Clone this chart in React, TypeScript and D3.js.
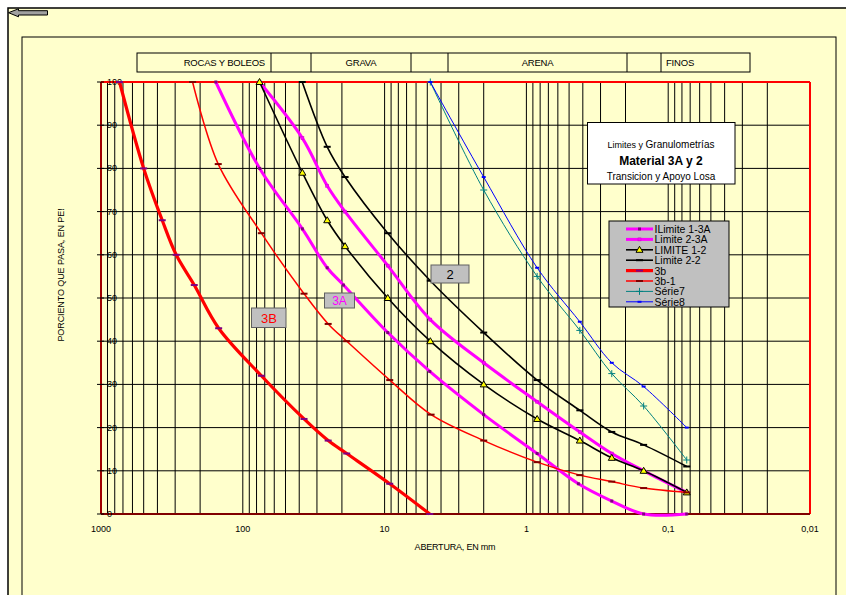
import React from 'react';
import * as d3 from 'd3';

// ---------- data ----------
const xTickValues = [1000, 100, 10, 1, 0.1, 0.01];
const xTickLabels = ['1000', '100', '10', '1', '0,1', '0,01'];
const yTickValues = [0, 10, 20, 30, 40, 50, 60, 70, 80, 90, 100];

const headerLabels = ['ROCAS Y BOLEOS', '', 'GRAVA', '', 'ARENA', '', 'FINOS'];

const seriesNames = ['ILimite 1-3A', 'Limite 2-3A', 'LIMITE 1-2', 'Limite 2-2', '3b', '3b-1', 'Série7', 'Série8'];

const lim13A_size = [155, 76, 38, 25.4, 19.5, 9.5, 4.8, 2, 0.84, 0.43, 0.25, 0.149, 0.074];
const lim13A_pass = [100, 80, 66, 57, 53, 42, 33, 23, 14, 7, 3, 0, 0];

const lim23A_size = [76.2, 38, 25.4, 19, 9.5, 4.76, 2, 0.84, 0.42, 0.25, 0.149, 0.074];
const lim23A_pass = [100, 87, 76, 70, 57.5, 45, 35, 26, 19, 14, 10, 5];

const lim12_size = [76.2, 38, 25.4, 19, 9.5, 4.76, 2, 0.84, 0.42, 0.25, 0.149, 0.074];
const lim12_pass = [100, 79, 68, 62, 50, 40, 30, 22, 17, 13, 10, 5];

const lim22_size = [38.1, 25.4, 19, 9.5, 4.76, 2, 0.84, 0.42, 0.25, 0.149, 0.074];
const lim22_pass = [100, 85, 78, 65, 54, 42, 31, 24, 19, 16, 11];

const s3b_size = [740, 500, 370, 295, 220, 148, 74, 37, 25, 18.5, 9.2, 4.8];
const s3b_pass = [100, 80, 68, 60, 53, 43, 32, 22, 17, 14, 7, 0];

const s3b1_size = [226, 149, 74, 37, 25, 18.5, 9.2, 4.7, 2, 0.84, 0.42, 0.25, 0.149, 0.074];
const s3b1_pass = [100, 81, 65, 51, 44, 40, 31, 23, 17, 12, 9, 7.5, 6, 5];

const s7_size = [4.76, 2, 0.84, 0.42, 0.25, 0.149, 0.074];
const s7_pass = [100, 75, 55, 42.5, 32.5, 25, 12.5];

const s8_size = [4.76, 2, 0.84, 0.42, 0.25, 0.149, 0.074];
const s8_pass = [100, 78, 57, 44.5, 35, 29.5, 20];

const seriesSizes = [lim13A_size, lim23A_size, lim12_size, lim22_size, s3b_size, s3b1_size, s7_size, s8_size];
const seriesPass = [lim13A_pass, lim23A_pass, lim12_pass, lim22_pass, s3b_pass, s3b1_pass, s7_pass, s8_pass];

// ---------- styles ----------
const styles = [
  { color: '#FF00FF', width: 3, marker: 'sqDark', mcolor: '#800080' },
  { color: '#FF00FF', width: 3, marker: 'sq', mcolor: '#FF00FF' },
  { color: '#000000', width: 1.6, marker: 'tri', mcolor: '#FFFF00' },
  { color: '#000000', width: 1.6, marker: 'dash', mcolor: '#000000' },
  { color: '#FF0000', width: 3.2, marker: 'dash', mcolor: '#800080' },
  { color: '#FF0000', width: 1.5, marker: 'dash', mcolor: '#800000' },
  { color: '#008080', width: 1, marker: 'plus', mcolor: '#008080' },
  { color: '#0000FF', width: 1, marker: 'dot', mcolor: '#0000FF' },
];

const FONT = '"Liberation Sans", Arial, sans-serif';

function Marker({ type, x, y, c }: { type: string; x: number; y: number; c: string }) {
  switch (type) {
    case 'sqDark':
      return <rect x={x - 1.5} y={y - 1.5} width={3} height={3} fill={c} />;
    case 'sq':
      return <rect x={x - 1.5} y={y - 1.5} width={3} height={3} fill={c} stroke="#CC00CC" strokeWidth={0.5} />;
    case 'tri':
      return <path d={`M${x},${y - 3.5}L${x + 3.5},${y + 2.5}L${x - 3.5},${y + 2.5}Z`} fill={c} stroke="#000" strokeWidth={1} />;
    case 'dash':
      return <rect x={x - 3.5} y={y - 1} width={7} height={2} fill={c} />;
    case 'plus':
      return (
        <g stroke={c} strokeWidth={1}>
          <line x1={x - 3.5} x2={x + 3.5} y1={y} y2={y} />
          <line x1={x} x2={x} y1={y - 3.5} y2={y + 3.5} />
        </g>
      );
    case 'dot':
      return <rect x={x - 2} y={y - 1} width={4} height={2} fill={c} />;
    default:
      return null;
  }
}

export default function App() {
  const W = 846, H = 595;
  const x = d3.scaleLog().domain([1000, 0.01]).range([101, 810]);
  const y = d3.scaleLinear().domain([0, 100]).range([514, 82]);
  const gridX = x.ticks();
  const line = d3
    .line<[number, number]>()
    .x((d) => x(d[0]))
    .y((d) => y(d[1]))
    .curve(d3.curveCatmullRom.alpha(0.5));

  const headerEdges = [137, 271, 311, 411, 448, 627, 661, 750];
  const legendX = 609, legendY = 221, legendW = 120, legendH = 86;

  return (
    <svg width={W} height={H} style={{ position: 'absolute', left: 0, top: 0, background: '#fff' }} fontFamily={FONT}>
      {/* outer sheet frame */}
      <rect x={8} y={8} width={W} height={H} fill="#FFFFCC" stroke="#000" strokeWidth={1.5} />
      {/* chart area frame */}
      <rect x={22} y={37} width={814} height={H} fill="#FFFFCC" stroke="#000" strokeWidth={1} />
      {/* back arrow */}
      <path d="M8.5,12.7 L18.5,8.8 L18.5,10.7 L47.5,10.7 L47.5,15 L18.5,15 L18.5,16.8 Z" fill="#A0A0A0" stroke="#000" strokeWidth={1} />

      {/* header row */}
      <rect x={headerEdges[0]} y={53} width={headerEdges[headerEdges.length - 1] - headerEdges[0]} height={19} fill="none" stroke="#000" strokeWidth={1} />
      {headerEdges.slice(1, -1).map((e, i) => (
        <line key={i} x1={e} x2={e} y1={53} y2={72} stroke="#000" strokeWidth={1} />
      ))}
      {headerLabels.map((t, i) => {
        if (!t) return null;
        const a = headerEdges[i], b = headerEdges[i + 1];
        let tx = (a + b) / 2, anchor: any = 'middle';
        if (i === 0) { tx = b - 6; anchor = 'end'; }
        if (i === headerLabels.length - 1) { tx = a + 5; anchor = 'start'; }
        return (
          <text key={i} x={tx} y={62.5} fontSize={9.5} textAnchor={anchor} dominantBaseline="central" fill="#000" letterSpacing={-0.2}>
            {t}
          </text>
        );
      })}

      {/* plot area grid */}
      {gridX.map((v, i) => (
        <line key={'gx' + i} x1={x(v)} x2={x(v)} y1={82} y2={514} stroke="#000" strokeWidth={1} />
      ))}
      {yTickValues.slice(1, -1).map((v) => (
        <line key={'gy' + v} x1={101} x2={810} y1={y(v)} y2={y(v)} stroke="#000" strokeWidth={1} />
      ))}
      {/* borders */}
      <line x1={101} x2={810} y1={82} y2={82} stroke="#FF0000" strokeWidth={2} />
      <line x1={810} x2={810} y1={82} y2={514} stroke="#FF0000" strokeWidth={2} />
      <line x1={101} x2={101} y1={82} y2={514} stroke="#A00000" strokeWidth={2} />
      <line x1={101} x2={810} y1={514} y2={514} stroke="#800000" strokeWidth={2} />

      {/* y ticks & labels */}
      {yTickValues.map((v) => (
        <g key={'yt' + v}>
          <line x1={97} x2={104} y1={y(v)} y2={y(v)} stroke="#000" strokeWidth={1} />
          <text x={107} y={y(v)} fontSize={9} dominantBaseline="central" fill="#000">
            {v}
          </text>
        </g>
      ))}
      {/* x labels */}
      {xTickValues.map((v, i) => (
        <text key={'xt' + i} x={x(v)} y={529} fontSize={9} textAnchor="middle" dominantBaseline="central" fill="#000">
          {xTickLabels[i]}
        </text>
      ))}
      <text x={455} y={547} fontSize={9} textAnchor="middle" dominantBaseline="central" letterSpacing={-0.2}>
        ABERTURA, EN mm
      </text>
      <text transform="translate(61,275) rotate(-90)" fontSize={9} textAnchor="middle" dominantBaseline="central" letterSpacing={-0.1}>
        PORCIENTO QUE PASA, EN PE!
      </text>

      {/* series */}
      {seriesNames.map((name, si) => {
        const pts: [number, number][] = seriesSizes[si].map((s, k) => [s, seriesPass[si][k]]);
        const st = styles[si];
        return (
          <g key={name}>
            <path d={line(pts) || ''} fill="none" stroke={st.color} strokeWidth={st.width} strokeLinejoin="round" />
            {pts.map((p, k) => (
              <Marker key={k} type={st.marker} x={x(p[0])} y={y(p[1])} c={st.mcolor} />
            ))}
          </g>
        );
      })}

      {/* curve labels */}
      <g>
        <rect x={431} y={265} width={38} height={18} fill="#C0C0C0" stroke="#606060" strokeWidth={1} />
        <text x={450} y={274.5} fontSize={13} textAnchor="middle" dominantBaseline="central" fill="#000">2</text>
        <rect x={324.5} y={293} width={30} height={15} fill="#C0C0C0" stroke="#606060" strokeWidth={1} />
        <text x={339.5} y={301} fontSize={12} textAnchor="middle" dominantBaseline="central" fill="#FF00FF">3A</text>
        <rect x={251.5} y={308} width={34.5} height={19.5} fill="#C0C0C0" stroke="#606060" strokeWidth={1} />
        <text x={269} y={318} fontSize={13} textAnchor="middle" dominantBaseline="central" fill="#FF0000">3B</text>
      </g>

      {/* title box */}
      <rect x={587.5} y={122.5} width={147.5} height={61.5} fill="#FFFFFF" stroke="#000" strokeWidth={1} />
      <text x={661} y={148} fontSize={10} textAnchor="middle" fill="#000">
        <tspan fontSize={9}>Limites y </tspan>
        <tspan>Granulometrías</tspan>
      </text>
      <text x={661} y={165} fontSize={12} fontWeight="bold" textAnchor="middle" fill="#000">Material 3A y 2</text>
      <text x={661} y={180} fontSize={10} textAnchor="middle" fill="#000">Transicion y Apoyo Losa</text>

      {/* legend */}
      <rect x={legendX} y={legendY} width={legendW} height={legendH} fill="#C0C0C0" stroke="#000" strokeWidth={1} />
      {seriesNames.map((name, i) => {
        const st = styles[i];
        const ly = 229 + i * 10.4;
        return (
          <g key={'lg' + i}>
            <line x1={626} x2={653} y1={ly} y2={ly} stroke={st.color} strokeWidth={st.width} />
            <Marker type={st.marker} x={639.5} y={ly} c={st.mcolor} />
            <text x={654.5} y={ly} fontSize={10.5} dominantBaseline="central" fill="#000">{name}</text>
          </g>
        );
      })}
    </svg>
  );
}
